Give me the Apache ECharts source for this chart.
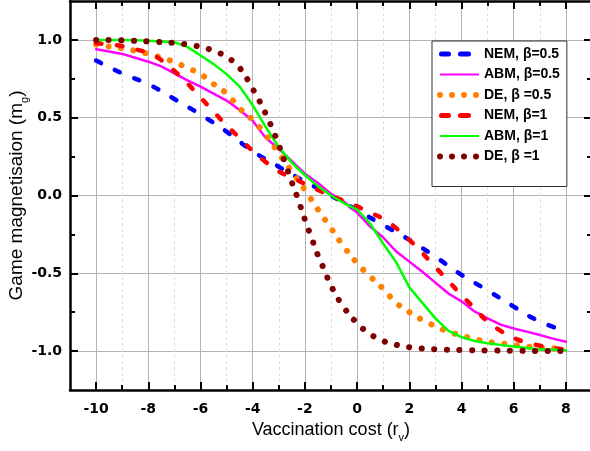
<!DOCTYPE html>
<html><head><meta charset="utf-8">
<script src="https://cdn.jsdelivr.net/npm/echarts@6/dist/echarts.min.js"></script>
<style>html,body{margin:0;padding:0;background:#fff}#c{width:590px;height:451px}</style>
</head><body><div id="c"></div>
<script>
// ---- tick positions ----
const xMajorTicks = [-10,-8,-6,-4,-2,0,2,4,6,8];
const xMinorTicks = [-9,-7,-5,-3,-1,1,3,5,7];
const yMajorTicks = [-1,-0.5,0,0.5,1];
const yMinorTicks = [-0.75,-0.25,0.25,0.75];

// ---- NEM, beta = 0.5 ----
const nem05X = [-10,-9,-8,-7,-6,-5,-4,-3,-2,-1,0,1,2,3,4,5,6,7,8];
const nem05Y = [0.867,0.785,0.715,0.62,0.52,0.41,0.285,0.185,0.09,0.0,-0.095,-0.19,-0.285,-0.394,-0.51,-0.61,-0.714,-0.81,-0.87];

// ---- ABM, beta = 0.5 ----
const abm05X = [-10,-9.5,-9,-8.5,-8,-7.5,-7,-6.5,-6,-5.5,-5,-4.5,-4,-3.5,-3,-2.5,-2,-1.5,-1,-0.5,0,0.5,1,1.5,2,2.5,3,3.5,4,4.5,5,5.5,6,6.5,7,7.5,8];
const abm05Y = [0.94,0.925,0.91,0.885,0.86,0.83,0.785,0.74,0.70,0.655,0.61,0.55,0.48,0.37,0.30,0.22,0.14,0.08,0.01,-0.04,-0.11,-0.20,-0.27,-0.36,-0.425,-0.49,-0.56,-0.63,-0.68,-0.745,-0.79,-0.83,-0.855,-0.875,-0.897,-0.92,-0.94];

// ---- DE, beta = 0.5 ----
const de05X = [-10,-9.5,-9,-8.5,-8,-7.5,-7,-6.5,-6,-5.5,-5,-4.5,-4,-3.5,-3,-2.5,-2,-1.5,-1,-0.5,0,0.5,1,1.5,2,2.5,3,3.5,4,4.5,5,5.5,6,6.5,7,7.5,8];
const de05Y = [0.97,0.957,0.947,0.93,0.91,0.886,0.857,0.82,0.78,0.716,0.655,0.56,0.485,0.39,0.27,0.155,0.035,-0.09,-0.21,-0.33,-0.435,-0.52,-0.60,-0.69,-0.75,-0.80,-0.84,-0.875,-0.90,-0.922,-0.94,-0.95,-0.96,-0.97,-0.977,-0.982,-0.986];

// ---- NEM, beta = 1 ----
const nem1X = [-10,-9.5,-9,-8.5,-8,-7.5,-7,-6.5,-6,-5.5,-5,-4.5,-4,-3.5,-3,-2.5,-2,-1.5,-1,-0.5,0,0.5,1,1.5,2,2.5,3,3.5,4,4.5,5,5.5,6,6.5,7,7.5,8];
const nem1Y = [0.98,0.97,0.96,0.94,0.915,0.87,0.80,0.72,0.63,0.54,0.45,0.37,0.285,0.215,0.155,0.115,0.075,0.035,0.0,-0.035,-0.07,-0.11,-0.15,-0.21,-0.285,-0.37,-0.46,-0.55,-0.64,-0.725,-0.81,-0.87,-0.915,-0.945,-0.965,-0.98,-0.99];

// ---- ABM, beta = 1 ----
const abm1X = [-10,-9.5,-9,-8.5,-8,-7.5,-7,-6.5,-6,-5.5,-5,-4.5,-4,-3.5,-3,-2.5,-2,-1.5,-1,-0.5,0,0.5,1,1.5,2,2.5,3,3.5,4,4.5,5,5.5,6,6.5,7,7.5,8];
const abm1Y = [1.0,1.0,1.0,0.998,0.995,0.99,0.985,0.955,0.90,0.845,0.78,0.70,0.58,0.44,0.31,0.21,0.13,0.06,0.0,-0.05,-0.09,-0.18,-0.31,-0.43,-0.59,-0.69,-0.79,-0.87,-0.91,-0.935,-0.95,-0.96,-0.97,-0.98,-0.99,-0.99,-0.995];

// ---- DE, beta = 1 ----
const de1X = [-10,-9,-8,-7,-6.5,-6,-5.5,-5,-4.5,-4,-3.75,-3.5,-3.25,-3,-2.75,-2.5,-2.25,-2,-1.75,-1.5,-1.25,-1,-0.5,0,0.5,1,1.5,2,3,4,5,6,7,8];
const de1Y = [1.0,0.997,0.99,0.98,0.97,0.955,0.93,0.89,0.82,0.685,0.61,0.525,0.43,0.325,0.205,0.085,-0.03,-0.155,-0.27,-0.385,-0.48,-0.58,-0.72,-0.82,-0.89,-0.935,-0.96,-0.975,-0.988,-0.993,-0.996,-0.998,-0.999,-1.0];

// ---- legend names ----
const seriesNames = ['NEM, \u03b2=0.5','ABM, \u03b2=0.5','DE, \u03b2 =0.5','NEM, \u03b2=1','ABM, \u03b2=1','DE, \u03b2 =1'];

function zip(xs, ys){ return xs.map((x,i)=>[x, ys[i]]); }

const dashIcon = 'path://M0,0M42,10M4.5,2.5h7a2.5,2.5 0 0 1 0,5h-7a2.5,2.5 0 0 1 0,-5zM23.5,2.5h8a2.5,2.5 0 0 1 0,5h-8a2.5,2.5 0 0 1 0,-5z';
const solidIcon = 'path://M0,0M42,10M3,4h39v2h-39z';
function circ(cx){ return 'M'+(cx-3)+',5a3,3 0 1,0 6,0a3,3 0 1,0 -6,0'; }
const dotIcon = 'path://M0,0M42,10' + circ(3)+circ(15)+circ(27)+circ(39);

const FONT = 'Liberation Sans, Arial, sans-serif';
const TICKFONT = 'DejaVu Sans, sans-serif';
const axisLineStyle = {color:'#000', width:2.5};

function xAx(pos, major){
  return {
    type:'value', min:-11, max:9, position:pos,
    axisLine:{show: major, onZero:false, lineStyle:axisLineStyle},
    axisTick:{show:true, inside:true, length: major?8:5, customValues: major?xMajorTicks:xMinorTicks, lineStyle:{color:'#000', width:2}},
    axisLabel:{show: major && pos==='bottom', customValues:xMajorTicks, margin:12, color:'#000', fontFamily:TICKFONT, fontWeight:'bold', fontSize:14, formatter:v=>String(v)},
    splitLine:{show: pos==='bottom', lineStyle: major?{color:'#b4b4b4', width:1}:{color:'#dcdcdc', width:1, type:[3,3]}}
  };
}
function yAx(pos, major){
  return {
    type:'value', min:-1.25, max:1.25, position:pos,
    axisLine:{show: major, onZero:false, lineStyle:axisLineStyle},
    axisTick:{show:true, inside:true, length: major?8:5, customValues: major?yMajorTicks:yMinorTicks, lineStyle:{color:'#000', width:2}},
    axisLabel:{show: major && pos==='left', customValues:yMajorTicks, margin:8, color:'#000', fontFamily:TICKFONT, fontWeight:'bold', fontSize:14, formatter:v=>v.toFixed(1)},
    splitLine:{show: major && pos==='left', lineStyle:{color:'#b4b4b4', width:1}}
  };
}

const xs = [xAx('bottom',true), xAx('bottom',false), xAx('top',true), xAx('top',false)];
xs[0].name = '{a|Vaccination cost (r}{s|v}{a|)}';
xs[0].nameLocation = 'middle';
xs[0].nameGap = 27;
xs[0].nameMoveOverlap = false;
xs[0].nameTextStyle = {rich:{
  a:{fontFamily:FONT, fontSize:18, color:'#000', lineHeight:26, verticalAlign:'middle'},
  s:{fontFamily:FONT, fontSize:11, color:'#000', lineHeight:26, verticalAlign:'bottom'}
}};
const ys = [yAx('left',true), yAx('left',false), yAx('right',true), yAx('right',false)];
ys[0].name = '{a|Game magnetisaion (m}{s|g}{a|)}';
ys[0].nameLocation = 'middle';
ys[0].nameGap = 40;
ys[0].nameMoveOverlap = false;
ys[0].nameTextStyle = {rich:{
  a:{fontFamily:FONT, fontSize:19, color:'#000', lineHeight:26, verticalAlign:'middle'},
  s:{fontFamily:FONT, fontSize:11, color:'#000', lineHeight:26, verticalAlign:'bottom'}
}};

function lineSeries(name, data, color, width, dash, smooth){
  return {
    name, type:'line', data, smooth, symbol:'none', xAxisIndex:0, yAxisIndex:0,
    itemStyle:{color},
    lineStyle:{color, width, type: dash || 'solid', cap:'round', join:'round'},
    emphasis:{disabled:true}, animation:false
  };
}

const chart = echarts.init(document.getElementById('c'));
chart.setOption({
  animation:false,
  backgroundColor:'#fff',
  grid:{left:70, right:-2, top:1, bottom:61, containLabel:false, outerBoundsMode:'none'},
  xAxis: xs,
  yAxis: ys,
  legend:{
    orient:'vertical', left:432, top:41, padding:[6,7,23,5],
    itemWidth:42, itemHeight:10, itemGap:6.5,
    backgroundColor:'#fff', borderColor:'#333', borderWidth:1, borderRadius:0,
    selectedMode:false,
    itemStyle:{borderWidth:0},
    textStyle:{fontFamily:FONT, fontWeight:'bold', fontSize:14, color:'#000'},
    data:[
      {name:seriesNames[0], icon:dashIcon},
      {name:seriesNames[1], icon:solidIcon},
      {name:seriesNames[2], icon:dotIcon},
      {name:seriesNames[3], icon:dashIcon},
      {name:seriesNames[4], icon:solidIcon},
      {name:seriesNames[5], icon:dotIcon}
    ]
  },
  series:[
    lineSeries(seriesNames[0], zip(nem05X, nem05Y), '#0000ff', 4.5, [5.5,15.5], true),
    lineSeries(seriesNames[1], zip(abm05X, abm05Y), '#ff00ff', 2.5, null, false),
    lineSeries(seriesNames[2], zip(de05X, de05Y), '#ff8000', 6, [0.1,12.5], true),
    lineSeries(seriesNames[3], zip(nem1X, nem1Y), '#ff0000', 4.5, [5.5,15.5], true),
    lineSeries(seriesNames[4], zip(abm1X, abm1Y), '#00ff00', 2.5, null, false),
    lineSeries(seriesNames[5], zip(de1X, de1Y), '#800000', 6, [0.1,12.5], true)
  ]
});
</script></body></html>
